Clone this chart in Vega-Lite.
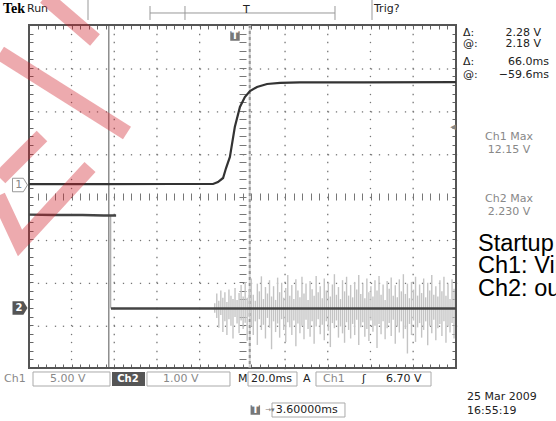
{
  "$schema": "https://vega.github.io/schema/vega-lite/v6.json",
  "width": 427,
  "height": 343,
  "autosize": {"type": "none"},
  "padding": {"left": 29, "top": 25, "right": 100, "bottom": 53},
  "background": "#ffffff",
  "config": {
    "view": {"stroke": null},
    "text": {"font": "DejaVu Sans", "fontSize": 11, "baseline": "middle"},
    "axis": {"domain": false, "labels": false, "grid": false, "ticks": true, "tickColor": "#777", "tickWidth": 1.3, "tickSize": 1.3}
  },
  "data": {"values": [{"k": 0}]},
  "datasets": {
    "ch1": [
      {"t": -97.0, "v": 0.1}, {"t": -60, "v": 0.1}, {"t": -30, "v": 0.12}, {"t": -10.8, "v": 0.12},
      {"t": -8.5, "v": 0.35}, {"t": -6.1, "v": 0.82}, {"t": -4.7, "v": 1.98}, {"t": -2.9, "v": 3.27},
      {"t": -0.6, "v": 6.76}, {"t": 1.8, "v": 9.1}, {"t": 4.1, "v": 10.26}, {"t": 6.5, "v": 10.96},
      {"t": 9.8, "v": 11.43}, {"t": 14.5, "v": 11.78}, {"t": 20.6, "v": 11.9}, {"t": 29.9, "v": 11.96},
      {"t": 60, "v": 11.98}, {"t": 103.0, "v": 12.0}
    ],
    "ch2": [
      {"seg": "a", "t": -97.0, "v": 2.19}, {"seg": "a", "t": -85, "v": 2.18}, {"seg": "a", "t": -72, "v": 2.18},
      {"seg": "a", "t": -62, "v": 2.17}, {"seg": "a", "t": -56.2, "v": 2.17},
      {"seg": "b", "t": -58.6, "v": 0.0}, {"seg": "b", "t": 103.0, "v": 0.0}
    ],
    "noise": [
      {"t": -10.0, "hi": 0.12, "lo": -0.1}, {"t": -9.05, "hi": 0.35, "lo": -0.22}, {"t": -8.1, "hi": 0.18, "lo": -0.45},
      {"t": -7.15, "hi": 0.42, "lo": -0.15}, {"t": -6.2, "hi": 0.25, "lo": -0.55}, {"t": -5.25, "hi": 0.38, "lo": -0.3},
      {"t": -4.3, "hi": 0.15, "lo": -0.62}, {"t": -3.35, "hi": 0.44, "lo": -0.25}, {"t": -2.4, "hi": 0.3, "lo": -0.4},
      {"t": -1.45, "hi": 0.22, "lo": -0.7}, {"t": -0.5, "hi": 0.48, "lo": -0.2}, {"t": 0.45, "hi": 0.2, "lo": -0.35},
      {"t": 1.4, "hi": 0.36, "lo": -0.58}, {"t": 2.35, "hi": 0.55, "lo": -0.28}, {"t": 3.3, "hi": 0.28, "lo": -0.48},
      {"t": 4.25, "hi": 0.62, "lo": -0.33}, {"t": 5.2, "hi": 0.25, "lo": -0.75}, {"t": 6.15, "hi": 0.45, "lo": -0.2},
      {"t": 7.1, "hi": 0.7, "lo": -0.42}, {"t": 8.05, "hi": 0.32, "lo": -0.62}, {"t": 9.0, "hi": 0.18, "lo": -0.3},
      {"t": 9.95, "hi": 0.58, "lo": -0.85}, {"t": 10.9, "hi": 0.4, "lo": -0.25}, {"t": 11.85, "hi": 0.75, "lo": -0.5},
      {"t": 12.8, "hi": 0.22, "lo": -0.38}, {"t": 13.75, "hi": 0.5, "lo": -0.7}, {"t": 14.7, "hi": 0.35, "lo": -0.22},
      {"t": 15.65, "hi": 0.66, "lo": -0.45}, {"t": 16.6, "hi": 0.28, "lo": -0.95}, {"t": 17.55, "hi": 0.52, "lo": -0.3},
      {"t": 18.5, "hi": 0.2, "lo": -0.55}, {"t": 19.45, "hi": 0.72, "lo": -0.35}, {"t": 20.4, "hi": 0.38, "lo": -0.68},
      {"t": 21.35, "hi": 0.6, "lo": -0.25}, {"t": 22.3, "hi": 0.25, "lo": -0.5}, {"t": 23.25, "hi": 0.48, "lo": -0.78},
      {"t": 24.2, "hi": 0.78, "lo": -0.32}, {"t": 25.15, "hi": 0.3, "lo": -0.44}, {"t": 26.1, "hi": 0.55, "lo": -0.62},
      {"t": 27.05, "hi": 0.22, "lo": -0.28}, {"t": 28.0, "hi": 0.68, "lo": -0.88}, {"t": 28.95, "hi": 0.42, "lo": -0.35},
      {"t": 29.9, "hi": 0.26, "lo": -0.58}, {"t": 30.85, "hi": 0.74, "lo": -0.4}, {"t": 31.8, "hi": 0.35, "lo": -0.72},
      {"t": 32.75, "hi": 0.58, "lo": -0.26}, {"t": 33.7, "hi": 0.2, "lo": -0.48}, {"t": 34.65, "hi": 0.64, "lo": -0.66},
      {"t": 35.6, "hi": 0.45, "lo": -0.3}, {"t": 36.55, "hi": 0.3, "lo": -0.82}, {"t": 37.5, "hi": 0.76, "lo": -0.42},
      {"t": 38.45, "hi": 0.38, "lo": -0.25}, {"t": 39.4, "hi": 0.52, "lo": -0.6}, {"t": 40.35, "hi": 0.24, "lo": -0.38},
      {"t": 41.3, "hi": 0.7, "lo": -0.74}, {"t": 42.25, "hi": 0.42, "lo": -0.3}, {"t": 43.2, "hi": 0.6, "lo": -0.52},
      {"t": 44.15, "hi": 0.28, "lo": -0.9}, {"t": 45.1, "hi": 0.56, "lo": -0.34}, {"t": 46.05, "hi": 0.8, "lo": -0.46},
      {"t": 47.0, "hi": 0.32, "lo": -0.28}, {"t": 47.95, "hi": 0.5, "lo": -0.68}, {"t": 48.9, "hi": 0.22, "lo": -0.42},
      {"t": 49.85, "hi": 0.66, "lo": -0.58}, {"t": 50.8, "hi": 0.4, "lo": -0.8}, {"t": 51.75, "hi": 0.74, "lo": -0.32},
      {"t": 52.7, "hi": 0.3, "lo": -0.5}, {"t": 53.65, "hi": 0.55, "lo": -0.7}, {"t": 54.6, "hi": 0.26, "lo": -0.36},
      {"t": 55.55, "hi": 0.62, "lo": -0.62}, {"t": 56.5, "hi": 0.44, "lo": -0.26}, {"t": 57.45, "hi": 0.78, "lo": -0.85},
      {"t": 58.4, "hi": 0.34, "lo": -0.44}, {"t": 59.35, "hi": 0.58, "lo": -0.32}, {"t": 60.3, "hi": 0.24, "lo": -0.66},
      {"t": 61.25, "hi": 0.7, "lo": -0.48}, {"t": 62.2, "hi": 0.38, "lo": -0.76}, {"t": 63.15, "hi": 0.52, "lo": -0.28},
      {"t": 64.1, "hi": 0.28, "lo": -0.54}, {"t": 65.05, "hi": 0.66, "lo": -0.4}, {"t": 66.0, "hi": 0.42, "lo": -0.92},
      {"t": 66.95, "hi": 0.76, "lo": -0.36}, {"t": 67.9, "hi": 0.32, "lo": -0.6}, {"t": 68.85, "hi": 0.56, "lo": -0.3},
      {"t": 69.8, "hi": 0.2, "lo": -0.72}, {"t": 70.75, "hi": 0.64, "lo": -0.46}, {"t": 71.7, "hi": 0.46, "lo": -0.34},
      {"t": 72.65, "hi": 0.72, "lo": -0.64}, {"t": 73.6, "hi": 0.3, "lo": -0.26}, {"t": 74.55, "hi": 0.54, "lo": -0.82},
      {"t": 75.5, "hi": 0.26, "lo": -0.42}, {"t": 76.45, "hi": 0.68, "lo": -0.56}, {"t": 77.4, "hi": 0.4, "lo": -0.3},
      {"t": 78.35, "hi": 0.8, "lo": -0.7}, {"t": 79.3, "hi": 0.34, "lo": -0.48}, {"t": 80.25, "hi": 0.58, "lo": -1.05},
      {"t": 81.2, "hi": 0.24, "lo": -0.36}, {"t": 82.15, "hi": 0.62, "lo": -0.62}, {"t": 83.1, "hi": 0.44, "lo": -0.28},
      {"t": 84.05, "hi": 0.74, "lo": -0.78}, {"t": 85.0, "hi": 0.3, "lo": -0.44}, {"t": 85.95, "hi": 0.56, "lo": -0.34},
      {"t": 86.9, "hi": 0.36, "lo": -0.68}, {"t": 87.85, "hi": 0.7, "lo": -0.5}, {"t": 88.8, "hi": 0.26, "lo": -0.3},
      {"t": 89.75, "hi": 0.6, "lo": -0.86}, {"t": 90.7, "hi": 0.42, "lo": -0.4}, {"t": 91.65, "hi": 0.78, "lo": -0.58},
      {"t": 92.6, "hi": 0.32, "lo": -0.26}, {"t": 93.55, "hi": 0.52, "lo": -0.74}, {"t": 94.5, "hi": 0.28, "lo": -0.46},
      {"t": 95.45, "hi": 0.66, "lo": -0.36}, {"t": 96.4, "hi": 0.4, "lo": -0.64}, {"t": 97.35, "hi": 0.74, "lo": -0.3},
      {"t": 98.3, "hi": 0.3, "lo": -0.8}, {"t": 99.25, "hi": 0.58, "lo": -0.42}, {"t": 100.2, "hi": 0.22, "lo": -0.56},
      {"t": 101.15, "hi": 0.68, "lo": -0.34}, {"t": 102.1, "hi": 0.46, "lo": -0.7}
    ],
    "mark": [
      {"seg": "A", "o": 0, "wx": -0.679, "wy": 3.347}, {"seg": "A", "o": 1, "wx": 2.295, "wy": 1.481},
      {"seg": "B", "o": 0, "wx": 0.375, "wy": 4.653}, {"seg": "B", "o": 1, "wx": 1.546, "wy": 3.65},
      {"seg": "C", "o": 0, "wx": -0.679, "wy": 0.431}, {"seg": "C", "o": 1, "wx": 0.304, "wy": 1.411},
      {"seg": "D", "o": 0, "wx": -0.726, "wy": 0.012}, {"seg": "D", "o": 1, "wx": -0.211, "wy": -1.085},
      {"seg": "D", "o": 2, "wx": 1.429, "wy": 0.688}
    ]
  },
  "resolve": {"scale": {"x": "independent", "y": "independent"}},
  "layer": [
    {
      "resolve": {"axis": {"x": "independent", "y": "independent"}},
      "layer": [
        {
          "mark": {"type": "point", "opacity": 0},
          "encoding": {
            "x": {"datum": 0, "type": "quantitative", "scale": {"domain": [0, 10], "nice": false, "zero": false},
              "axis": {"orient": "bottom", "offset": -42.875, "title": null, "values": [0,0.2,0.4,0.6,0.8,1,1.2,1.4,1.6,1.8,2,2.2,2.4,2.6,2.8,3,3.2,3.4,3.6,3.8,4,4.2,4.4,4.6,4.8,5,5.2,5.4,5.6,5.8,6,6.2,6.4,6.6,6.8,7,7.2,7.4,7.6,7.8,8,8.2,8.4,8.6,8.8,9,9.2,9.4,9.6,9.8,10]}},
            "y": {"datum": 0, "type": "quantitative", "scale": {"domain": [-4, 4], "nice": false, "zero": false},
              "axis": {"orient": "left", "offset": -42.7, "title": null, "values": [-4,-3.8,-3.6,-3.4,-3.2,-3,-2.8,-2.6,-2.4,-2.2,-2,-1.8,-1.6,-1.4,-1.2,-1,-0.8,-0.6,-0.4,-0.2,0,0.2,0.4,0.6,0.8,1,1.2,1.4,1.6,1.8,2,2.2,2.4,2.6,2.8,3,3.2,3.4,3.6,3.8,4]}}
          }
        },
        {
          "mark": {"type": "point", "opacity": 0},
          "encoding": {
            "x": {"datum": 0, "type": "quantitative", "scale": {"domain": [0, 10], "nice": false, "zero": false},
              "axis": {"orient": "bottom", "offset": -85.75, "title": null, "values": [0,0.2,0.4,0.6,0.8,1,1.2,1.4,1.6,1.8,2,2.2,2.4,2.6,2.8,3,3.2,3.4,3.6,3.8,4,4.2,4.4,4.6,4.8,5,5.2,5.4,5.6,5.8,6,6.2,6.4,6.6,6.8,7,7.2,7.4,7.6,7.8,8,8.2,8.4,8.6,8.8,9,9.2,9.4,9.6,9.8,10]}},
            "y": {"datum": 0, "type": "quantitative", "scale": {"domain": [-4, 4], "nice": false, "zero": false},
              "axis": {"orient": "left", "offset": -85.4, "title": null, "values": [-4,-3.8,-3.6,-3.4,-3.2,-3,-2.8,-2.6,-2.4,-2.2,-2,-1.8,-1.6,-1.4,-1.2,-1,-0.8,-0.6,-0.4,-0.2,0,0.2,0.4,0.6,0.8,1,1.2,1.4,1.6,1.8,2,2.2,2.4,2.6,2.8,3,3.2,3.4,3.6,3.8,4]}}
          }
        },
        {
          "mark": {"type": "point", "opacity": 0},
          "encoding": {
            "x": {"datum": 0, "type": "quantitative", "scale": {"domain": [0, 10], "nice": false, "zero": false},
              "axis": {"orient": "bottom", "offset": -128.625, "title": null, "values": [0,0.2,0.4,0.6,0.8,1,1.2,1.4,1.6,1.8,2,2.2,2.4,2.6,2.8,3,3.2,3.4,3.6,3.8,4,4.2,4.4,4.6,4.8,5,5.2,5.4,5.6,5.8,6,6.2,6.4,6.6,6.8,7,7.2,7.4,7.6,7.8,8,8.2,8.4,8.6,8.8,9,9.2,9.4,9.6,9.8,10]}},
            "y": {"datum": 0, "type": "quantitative", "scale": {"domain": [-4, 4], "nice": false, "zero": false},
              "axis": {"orient": "left", "offset": -128.1, "title": null, "values": [-4,-3.8,-3.6,-3.4,-3.2,-3,-2.8,-2.6,-2.4,-2.2,-2,-1.8,-1.6,-1.4,-1.2,-1,-0.8,-0.6,-0.4,-0.2,0,0.2,0.4,0.6,0.8,1,1.2,1.4,1.6,1.8,2,2.2,2.4,2.6,2.8,3,3.2,3.4,3.6,3.8,4]}}
          }
        },
        {
          "mark": {"type": "point", "opacity": 0},
          "encoding": {
            "x": {"datum": 0, "type": "quantitative", "scale": {"domain": [0, 10], "nice": false, "zero": false},
              "axis": {"orient": "bottom", "offset": -214.375, "title": null, "values": [0,0.2,0.4,0.6,0.8,1,1.2,1.4,1.6,1.8,2,2.2,2.4,2.6,2.8,3,3.2,3.4,3.6,3.8,4,4.2,4.4,4.6,4.8,5,5.2,5.4,5.6,5.8,6,6.2,6.4,6.6,6.8,7,7.2,7.4,7.6,7.8,8,8.2,8.4,8.6,8.8,9,9.2,9.4,9.6,9.8,10]}},
            "y": {"datum": 0, "type": "quantitative", "scale": {"domain": [-4, 4], "nice": false, "zero": false},
              "axis": {"orient": "left", "offset": -170.8, "title": null, "values": [-4,-3.8,-3.6,-3.4,-3.2,-3,-2.8,-2.6,-2.4,-2.2,-2,-1.8,-1.6,-1.4,-1.2,-1,-0.8,-0.6,-0.4,-0.2,0,0.2,0.4,0.6,0.8,1,1.2,1.4,1.6,1.8,2,2.2,2.4,2.6,2.8,3,3.2,3.4,3.6,3.8,4]}}
          }
        },
        {
          "mark": {"type": "point", "opacity": 0},
          "encoding": {
            "x": {"datum": 0, "type": "quantitative", "scale": {"domain": [0, 10], "nice": false, "zero": false},
              "axis": {"orient": "bottom", "offset": -257.25, "title": null, "values": [0,0.2,0.4,0.6,0.8,1,1.2,1.4,1.6,1.8,2,2.2,2.4,2.6,2.8,3,3.2,3.4,3.6,3.8,4,4.2,4.4,4.6,4.8,5,5.2,5.4,5.6,5.8,6,6.2,6.4,6.6,6.8,7,7.2,7.4,7.6,7.8,8,8.2,8.4,8.6,8.8,9,9.2,9.4,9.6,9.8,10]}},
            "y": {"datum": 0, "type": "quantitative", "scale": {"domain": [-4, 4], "nice": false, "zero": false},
              "axis": {"orient": "left", "offset": -256.2, "title": null, "values": [-4,-3.8,-3.6,-3.4,-3.2,-3,-2.8,-2.6,-2.4,-2.2,-2,-1.8,-1.6,-1.4,-1.2,-1,-0.8,-0.6,-0.4,-0.2,0,0.2,0.4,0.6,0.8,1,1.2,1.4,1.6,1.8,2,2.2,2.4,2.6,2.8,3,3.2,3.4,3.6,3.8,4]}}
          }
        },
        {
          "mark": {"type": "point", "opacity": 0},
          "encoding": {
            "x": {"datum": 0, "type": "quantitative", "scale": {"domain": [0, 10], "nice": false, "zero": false},
              "axis": {"orient": "bottom", "offset": -300.125, "title": null, "values": [0,0.2,0.4,0.6,0.8,1,1.2,1.4,1.6,1.8,2,2.2,2.4,2.6,2.8,3,3.2,3.4,3.6,3.8,4,4.2,4.4,4.6,4.8,5,5.2,5.4,5.6,5.8,6,6.2,6.4,6.6,6.8,7,7.2,7.4,7.6,7.8,8,8.2,8.4,8.6,8.8,9,9.2,9.4,9.6,9.8,10]}},
            "y": {"datum": 0, "type": "quantitative", "scale": {"domain": [-4, 4], "nice": false, "zero": false},
              "axis": {"orient": "left", "offset": -298.9, "title": null, "values": [-4,-3.8,-3.6,-3.4,-3.2,-3,-2.8,-2.6,-2.4,-2.2,-2,-1.8,-1.6,-1.4,-1.2,-1,-0.8,-0.6,-0.4,-0.2,0,0.2,0.4,0.6,0.8,1,1.2,1.4,1.6,1.8,2,2.2,2.4,2.6,2.8,3,3.2,3.4,3.6,3.8,4]}}
          }
        },
        {
          "mark": {"type": "point", "opacity": 0},
          "encoding": {
            "x": {"datum": 0, "type": "quantitative", "scale": {"domain": [0, 10], "nice": false, "zero": false},
              "axis": {"orient": "bottom", "offset": -175, "tickSize": 7, "tickWidth": 1, "title": null, "values": [0,0.2,0.4,0.6,0.8,1,1.2,1.4,1.6,1.8,2,2.2,2.4,2.6,2.8,3,3.2,3.4,3.6,3.8,4,4.2,4.4,4.6,4.8,5,5.2,5.4,5.6,5.8,6,6.2,6.4,6.6,6.8,7,7.2,7.4,7.6,7.8,8,8.2,8.4,8.6,8.8,9,9.2,9.4,9.6,9.8,10]}},
            "y": {"datum": 0, "type": "quantitative", "scale": {"domain": [-4, 4], "nice": false, "zero": false},
              "axis": {"orient": "left", "offset": -341.6, "title": null, "values": [-4,-3.8,-3.6,-3.4,-3.2,-3,-2.8,-2.6,-2.4,-2.2,-2,-1.8,-1.6,-1.4,-1.2,-1,-0.8,-0.6,-0.4,-0.2,0,0.2,0.4,0.6,0.8,1,1.2,1.4,1.6,1.8,2,2.2,2.4,2.6,2.8,3,3.2,3.4,3.6,3.8,4]}}
          }
        },
        {
          "mark": {"type": "point", "opacity": 0},
          "encoding": {
            "x": {"datum": 0, "type": "quantitative", "scale": {"domain": [0, 10], "nice": false, "zero": false},
              "axis": {"orient": "top", "offset": -4, "tickSize": 4, "tickWidth": 1, "tickColor": "#666", "title": null, "values": [0,0.2,0.4,0.6,0.8,1,1.2,1.4,1.6,1.8,2,2.2,2.4,2.6,2.8,3,3.2,3.4,3.6,3.8,4,4.2,4.4,4.6,4.8,5,5.2,5.4,5.6,5.8,6,6.2,6.4,6.6,6.8,7,7.2,7.4,7.6,7.8,8,8.2,8.4,8.6,8.8,9,9.2,9.4,9.6,9.8,10]}},
            "y": {"datum": 0, "type": "quantitative", "scale": {"domain": [-4, 4], "nice": false, "zero": false},
              "axis": {"orient": "left", "offset": -384.3, "title": null, "values": [-4,-3.8,-3.6,-3.4,-3.2,-3,-2.8,-2.6,-2.4,-2.2,-2,-1.8,-1.6,-1.4,-1.2,-1,-0.8,-0.6,-0.4,-0.2,0,0.2,0.4,0.6,0.8,1,1.2,1.4,1.6,1.8,2,2.2,2.4,2.6,2.8,3,3.2,3.4,3.6,3.8,4]}}
          }
        },
        {
          "mark": {"type": "point", "opacity": 0},
          "encoding": {
            "x": {"datum": 0, "type": "quantitative", "scale": {"domain": [0, 10], "nice": false, "zero": false},
              "axis": {"orient": "bottom", "offset": -4, "tickSize": 4, "tickWidth": 1, "tickColor": "#666", "title": null, "values": [0,0.2,0.4,0.6,0.8,1,1.2,1.4,1.6,1.8,2,2.2,2.4,2.6,2.8,3,3.2,3.4,3.6,3.8,4,4.2,4.4,4.6,4.8,5,5.2,5.4,5.6,5.8,6,6.2,6.4,6.6,6.8,7,7.2,7.4,7.6,7.8,8,8.2,8.4,8.6,8.8,9,9.2,9.4,9.6,9.8,10]}},
            "y": {"datum": 0, "type": "quantitative", "scale": {"domain": [-4, 4], "nice": false, "zero": false},
              "axis": {"orient": "left", "offset": -217, "tickSize": 7, "tickWidth": 1, "title": null, "values": [-4,-3.8,-3.6,-3.4,-3.2,-3,-2.8,-2.6,-2.4,-2.2,-2,-1.8,-1.6,-1.4,-1.2,-1,-0.8,-0.6,-0.4,-0.2,0,0.2,0.4,0.6,0.8,1,1.2,1.4,1.6,1.8,2,2.2,2.4,2.6,2.8,3,3.2,3.4,3.6,3.8,4]}}
          }
        },
        {
          "mark": {"type": "point", "opacity": 0},
          "encoding": {
            "x": {"datum": 0, "type": "quantitative", "scale": {"domain": [0, 10], "nice": false, "zero": false}, "axis": null},
            "y": {"datum": 0, "type": "quantitative", "scale": {"domain": [-4, 4], "nice": false, "zero": false},
              "axis": {"orient": "left", "offset": -4, "tickSize": 4, "tickWidth": 1, "tickColor": "#666", "title": null, "values": [-4,-3.8,-3.6,-3.4,-3.2,-3,-2.8,-2.6,-2.4,-2.2,-2,-1.8,-1.6,-1.4,-1.2,-1,-0.8,-0.6,-0.4,-0.2,0,0.2,0.4,0.6,0.8,1,1.2,1.4,1.6,1.8,2,2.2,2.4,2.6,2.8,3,3.2,3.4,3.6,3.8,4]}}
          }
        },
        {
          "mark": {"type": "point", "opacity": 0},
          "encoding": {
            "x": {"datum": 0, "type": "quantitative", "scale": {"domain": [0, 10], "nice": false, "zero": false}, "axis": null},
            "y": {"datum": 0, "type": "quantitative", "scale": {"domain": [-4, 4], "nice": false, "zero": false},
              "axis": {"orient": "right", "offset": -4, "tickSize": 4, "tickWidth": 1, "tickColor": "#666", "title": null, "values": [-4,-3.8,-3.6,-3.4,-3.2,-3,-2.8,-2.6,-2.4,-2.2,-2,-1.8,-1.6,-1.4,-1.2,-1,-0.8,-0.6,-0.4,-0.2,0,0.2,0.4,0.6,0.8,1,1.2,1.4,1.6,1.8,2,2.2,2.4,2.6,2.8,3,3.2,3.4,3.6,3.8,4]}}
          }
        },
        {
          "mark": {"type": "rect", "fill": null, "stroke": "#555", "strokeWidth": 2},
          "encoding": {
            "x": {"datum": 0, "type": "quantitative", "scale": {"domain": [0, 10], "nice": false, "zero": false}, "axis": null},
            "x2": {"datum": 10},
            "y": {"datum": -4, "type": "quantitative", "scale": {"domain": [-4, 4], "nice": false, "zero": false}, "axis": null},
            "y2": {"datum": 4}
          }
        },
        {
          "data": {"values": [
            {"x": 1.382, "y": 4.583, "y2": 4.117}, {"x": 8.033, "y": 4.583, "y2": 4.117},
            {"x": 2.834, "y": 4.443, "y2": 4.117}, {"x": 7.166, "y": 4.443, "y2": 4.117}, {"x": 3.653, "y": 4.443, "y2": 4.117}
          ]},
          "mark": {"type": "rule", "color": "#999", "strokeWidth": 1},
          "encoding": {
            "x": {"field": "x", "type": "quantitative", "scale": {"domain": [0, 10], "nice": false, "zero": false}, "axis": null},
            "y": {"field": "y", "type": "quantitative", "scale": {"domain": [-4, 4], "nice": false, "zero": false}, "axis": null},
            "y2": {"field": "y2"}
          }
        },
        {
          "data": {"values": [{"x": 2.834, "x2": 7.166, "y": 4.28}]},
          "mark": {"type": "rule", "color": "#999", "strokeWidth": 1},
          "encoding": {
            "x": {"field": "x", "type": "quantitative", "scale": {"domain": [0, 10], "nice": false, "zero": false}, "axis": null},
            "x2": {"field": "x2"},
            "y": {"field": "y", "type": "quantitative", "scale": {"domain": [-4, 4], "nice": false, "zero": false}, "axis": null}
          }
        },
        {
          "data": {"values": [
            {"x": 0.094, "x2": 1.897, "y": -4.093, "y2": -4.42},
            {"x": 2.763, "x2": 4.707, "y": -4.093, "y2": -4.42},
            {"x": 5.129, "x2": 6.276, "y": -4.093, "y2": -4.42},
            {"x": 6.721, "x2": 9.415, "y": -4.093, "y2": -4.42},
            {"x": 5.691, "x2": 7.4, "y": -4.816, "y2": -5.143}
          ]},
          "mark": {"type": "rect", "fill": null, "stroke": "#aaa", "strokeWidth": 1},
          "encoding": {
            "x": {"field": "x", "type": "quantitative", "scale": {"domain": [0, 10], "nice": false, "zero": false}, "axis": null},
            "x2": {"field": "x2"},
            "y": {"field": "y", "type": "quantitative", "scale": {"domain": [-4, 4], "nice": false, "zero": false}, "axis": null},
            "y2": {"field": "y2"}
          }
        },
        {
          "data": {"values": [{"x": 1.944, "x2": 2.717, "y": -4.093, "y2": -4.42}]},
          "mark": {"type": "rect", "fill": "#555"},
          "encoding": {
            "x": {"field": "x", "type": "quantitative", "scale": {"domain": [0, 10], "nice": false, "zero": false}, "axis": null},
            "x2": {"field": "x2"},
            "y": {"field": "y", "type": "quantitative", "scale": {"domain": [-4, 4], "nice": false, "zero": false}, "axis": null},
            "y2": {"field": "y2"}
          }
        },
        {
          "data": {"values": [{"x": -0.211, "y": 0.268}]},
          "mark": {"type": "point", "shape": "M -1 -0.9 L 0.45 -0.9 L 1 0 L 0.45 0.9 L -1 0.9 Z", "size": 225, "filled": true, "fill": "#fff", "stroke": "#999", "strokeWidth": 1, "opacity": 1},
          "encoding": {
            "x": {"field": "x", "type": "quantitative", "scale": {"domain": [0, 10], "nice": false, "zero": false}, "axis": null},
            "y": {"field": "y", "type": "quantitative", "scale": {"domain": [-4, 4], "nice": false, "zero": false}, "axis": null}
          }
        },
        {
          "data": {"values": [{"x": -0.211, "y": -2.601}]},
          "mark": {"type": "point", "shape": "M -1 -0.9 L 0.45 -0.9 L 1 0 L 0.45 0.9 L -1 0.9 Z", "size": 225, "filled": true, "fill": "#555", "opacity": 1},
          "encoding": {
            "x": {"field": "x", "type": "quantitative", "scale": {"domain": [0, 10], "nice": false, "zero": false}, "axis": null},
            "y": {"field": "y", "type": "quantitative", "scale": {"domain": [-4, 4], "nice": false, "zero": false}, "axis": null}
          }
        },
        {
          "data": {"values": [{"x": 4.824, "y": 3.743}, {"x": 5.3, "y": -4.98}]},
          "mark": {"type": "point", "shape": "square", "size": 90, "filled": true, "fill": "#777", "opacity": 1},
          "encoding": {
            "x": {"field": "x", "type": "quantitative", "scale": {"domain": [0, 10], "nice": false, "zero": false}, "axis": null},
            "y": {"field": "y", "type": "quantitative", "scale": {"domain": [-4, 4], "nice": false, "zero": false}, "axis": null}
          }
        },
        {
          "data": {"values": [
            {"x": 4.824, "y": 3.743, "s": "T"}, {"x": 5.3, "y": -4.98, "s": "T"},
            {"x": -0.235, "y": -2.601, "s": "2"}, {"x": 2.318, "y": -4.257, "s": "Ch2"}
          ]},
          "mark": {"type": "text", "color": "#fff", "fontWeight": "bold", "fontSize": 10, "align": "center"},
          "encoding": {
            "x": {"field": "x", "type": "quantitative", "scale": {"domain": [0, 10], "nice": false, "zero": false}, "axis": null},
            "y": {"field": "y", "type": "quantitative", "scale": {"domain": [-4, 4], "nice": false, "zero": false}, "axis": null},
            "text": {"field": "s"}
          }
        },
        {
          "data": {"values": [{"x": 5.53, "y": -4.98, "s": "→▾"}]},
          "mark": {"type": "text", "color": "#777", "fontSize": 7, "align": "left"},
          "encoding": {
            "x": {"field": "x", "type": "quantitative", "scale": {"domain": [0, 10], "nice": false, "zero": false}, "axis": null},
            "y": {"field": "y", "type": "quantitative", "scale": {"domain": [-4, 4], "nice": false, "zero": false}, "axis": null},
            "text": {"field": "s"}
          }
        },
        {
          "data": {"values": [{"x": -0.611, "y": 4.373, "s": "Tek"}]},
          "mark": {"type": "text", "font": "Liberation Serif", "fontWeight": "bold", "fontSize": 14, "color": "#000", "align": "left"},
          "encoding": {
            "x": {"field": "x", "type": "quantitative", "scale": {"domain": [0, 10], "nice": false, "zero": false}, "axis": null},
            "y": {"field": "y", "type": "quantitative", "scale": {"domain": [-4, 4], "nice": false, "zero": false}, "axis": null},
            "text": {"field": "s"}
          }
        },
        {
          "data": {"values": [
            {"x": -0.047, "y": 4.373, "s": "Run"}, {"x": 8.08, "y": 4.373, "s": "Trig?"},
            {"x": 5.012, "y": 4.35, "s": "T"},
            {"x": 10.164, "y": 3.813, "s": "Δ:"}, {"x": 10.164, "y": 3.557, "s": "@:"},
            {"x": 10.164, "y": 3.137, "s": "Δ:"}, {"x": 10.164, "y": 2.834, "s": "@:"},
            {"x": 4.895, "y": -4.257, "s": "M"}, {"x": 5.199, "y": -4.257, "s": "20.0ms"},
            {"x": 6.417, "y": -4.257, "s": "A"}, {"x": 7.799, "y": -4.257, "s": "ʃ"},
            {"x": 8.361, "y": -4.257, "s": "6.70 V"},
            {"x": 5.78, "y": -4.98, "s": "3.60000ms"},
            {"x": 10.258, "y": -4.676, "s": "25 Mar  2009"}, {"x": 10.258, "y": -5.003, "s": "16:55:19"}
          ]},
          "mark": {"type": "text", "color": "#222", "align": "left"},
          "encoding": {
            "x": {"field": "x", "type": "quantitative", "scale": {"domain": [0, 10], "nice": false, "zero": false}, "axis": null},
            "y": {"field": "y", "type": "quantitative", "scale": {"domain": [-4, 4], "nice": false, "zero": false}, "axis": null},
            "text": {"field": "s"}
          }
        },
        {
          "data": {"values": [
            {"x": 11.991, "y": 3.813, "s": "2.28 V"}, {"x": 11.991, "y": 3.557, "s": "2.18 V"},
            {"x": 12.178, "y": 3.137, "s": "66.0ms"}, {"x": 12.178, "y": 2.834, "s": "−59.6ms"}
          ]},
          "mark": {"type": "text", "color": "#222", "align": "right"},
          "encoding": {
            "x": {"field": "x", "type": "quantitative", "scale": {"domain": [0, 10], "nice": false, "zero": false}, "axis": null},
            "y": {"field": "y", "type": "quantitative", "scale": {"domain": [-4, 4], "nice": false, "zero": false}, "axis": null},
            "text": {"field": "s"}
          }
        },
        {
          "data": {"values": [
            {"x": -0.585, "y": -4.257, "s": "Ch1"}, {"x": 0.492, "y": -4.257, "s": "5.00 V"},
            {"x": 3.138, "y": -4.257, "s": "1.00 V"}, {"x": 6.885, "y": -4.257, "s": "Ch1"},
            {"x": -0.32, "y": 0.268, "s": "1"}
          ]},
          "mark": {"type": "text", "color": "#888", "align": "left"},
          "encoding": {
            "x": {"field": "x", "type": "quantitative", "scale": {"domain": [0, 10], "nice": false, "zero": false}, "axis": null},
            "y": {"field": "y", "type": "quantitative", "scale": {"domain": [-4, 4], "nice": false, "zero": false}, "axis": null},
            "text": {"field": "s"}
          }
        },
        {
          "data": {"values": [
            {"x": 11.241, "y": 1.388, "s": "Ch1 Max"}, {"x": 11.241, "y": 1.085, "s": "12.15 V"},
            {"x": 11.241, "y": -0.058, "s": "Ch2 Max"}, {"x": 11.241, "y": -0.362, "s": "2.230 V"},
            {"x": 9.93, "y": 1.621, "s": "◂"}
          ]},
          "mark": {"type": "text", "color": "#888", "align": "center"},
          "encoding": {
            "x": {"field": "x", "type": "quantitative", "scale": {"domain": [0, 10], "nice": false, "zero": false}, "axis": null},
            "y": {"field": "y", "type": "quantitative", "scale": {"domain": [-4, 4], "nice": false, "zero": false}, "axis": null},
            "text": {"field": "s"}
          }
        },
        {
          "data": {"values": [
            {"x": 10.515, "y": -1.108, "s": "Startup"},
            {"x": 10.515, "y": -1.621, "s": "Ch1: Vin"},
            {"x": 10.515, "y": -2.157, "s": "Ch2: output"}
          ]},
          "mark": {"type": "text", "font": "Liberation Sans", "fontSize": 23.5, "color": "#000", "align": "left"},
          "encoding": {
            "x": {"field": "x", "type": "quantitative", "scale": {"domain": [0, 10], "nice": false, "zero": false}, "axis": null},
            "y": {"field": "y", "type": "quantitative", "scale": {"domain": [-4, 4], "nice": false, "zero": false}, "axis": null},
            "text": {"field": "s"}
          }
        }
      ]
    },
    {
      "layer": [
        {
          "data": {"values": [{"t": -59.6}]},
          "mark": {"type": "rule", "color": "#555", "strokeWidth": 1},
          "encoding": {
            "x": {"field": "t", "type": "quantitative", "scale": {"domain": [-97.0, 103.0], "nice": false, "zero": false}, "axis": null}
          }
        },
        {
          "data": {"values": [{"t": 6.4}]},
          "mark": {"type": "rule", "color": "#d4d4d4", "strokeWidth": 2},
          "encoding": {
            "x": {"field": "t", "type": "quantitative", "scale": {"domain": [-97.0, 103.0], "nice": false, "zero": false}, "axis": null}
          }
        },
        {
          "data": {"values": [{"t": 6.4}]},
          "mark": {"type": "rule", "color": "#999", "strokeWidth": 2, "strokeDash": [3, 3]},
          "encoding": {
            "x": {"field": "t", "type": "quantitative", "scale": {"domain": [-97.0, 103.0], "nice": false, "zero": false}, "axis": null}
          }
        },
        {
          "data": {"name": "ch1"},
          "mark": {"type": "line", "color": "#333", "strokeWidth": 2.2},
          "encoding": {
            "x": {"field": "t", "type": "quantitative", "scale": {"domain": [-97.0, 103.0], "nice": false, "zero": false}, "axis": null},
            "y": {"field": "v", "type": "quantitative", "scale": {"domain": [-21.34, 18.66], "nice": false, "zero": false}, "axis": null}
          }
        }
      ]
    },
    {
      "layer": [
        {
          "data": {"name": "noise"},
          "mark": {"type": "rule", "color": "#c4c4c4", "strokeWidth": 1.4},
          "encoding": {
            "x": {"field": "t", "type": "quantitative", "scale": {"domain": [-97.0, 103.0], "nice": false, "zero": false}, "axis": null},
            "y": {"field": "lo", "type": "quantitative", "scale": {"domain": [-1.388, 6.612], "nice": false, "zero": false}, "axis": null},
            "y2": {"field": "hi"}
          }
        },
        {
          "data": {"values": [{"t": -58.8, "v": 2.17, "v2": 0.0}]},
          "mark": {"type": "rule", "color": "#b0b0b0", "strokeWidth": 1.5},
          "encoding": {
            "x": {"field": "t", "type": "quantitative", "scale": {"domain": [-97.0, 103.0], "nice": false, "zero": false}, "axis": null},
            "y": {"field": "v", "type": "quantitative", "scale": {"domain": [-1.388, 6.612], "nice": false, "zero": false}, "axis": null},
            "y2": {"field": "v2"}
          }
        },
        {
          "data": {"name": "ch2"},
          "mark": {"type": "line", "color": "#444", "strokeWidth": 2.4},
          "encoding": {
            "x": {"field": "t", "type": "quantitative", "scale": {"domain": [-97.0, 103.0], "nice": false, "zero": false}, "axis": null},
            "y": {"field": "v", "type": "quantitative", "scale": {"domain": [-1.388, 6.612], "nice": false, "zero": false}, "axis": null},
            "detail": {"field": "seg"}
          }
        }
      ]
    },
    {
      "data": {"name": "mark"},
      "mark": {"type": "line", "color": "#d0202a", "opacity": 0.38, "strokeWidth": 15, "strokeCap": "butt", "strokeJoin": "miter"},
      "encoding": {
        "x": {"field": "wx", "type": "quantitative", "scale": {"domain": [0, 10], "nice": false, "zero": false}, "axis": null},
        "y": {"field": "wy", "type": "quantitative", "scale": {"domain": [-4, 4], "nice": false, "zero": false}, "axis": null},
        "detail": {"field": "seg"},
        "order": {"field": "o"}
      }
    }
  ]
}
